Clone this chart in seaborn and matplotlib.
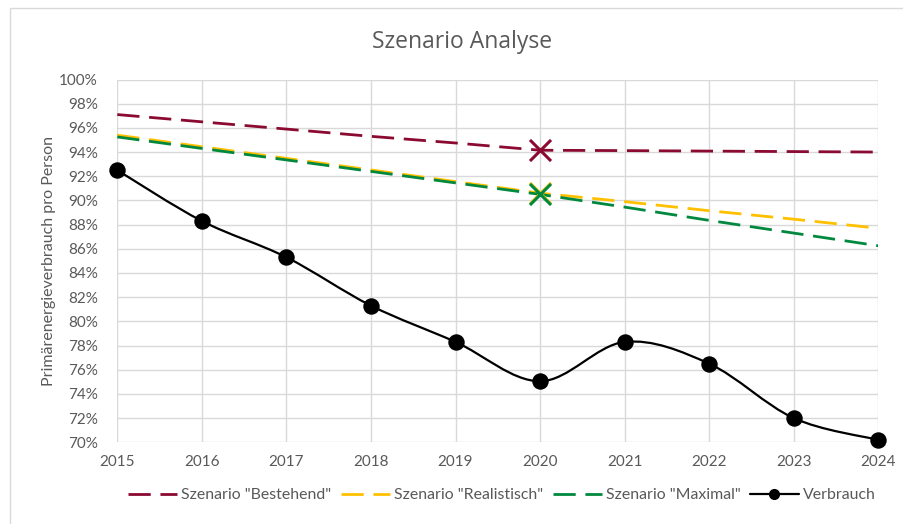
import numpy as np
import pandas as pd
import seaborn as sns
import matplotlib.pyplot as plt
from matplotlib.path import Path
from matplotlib.patches import PathPatch, Rectangle
from matplotlib.lines import Line2D
from matplotlib.ticker import PercentFormatter

# data (values in %)
jahre = [2015, 2016, 2017, 2018, 2019, 2020, 2021, 2022, 2023, 2024]
bestehend = [97.1, 96.5, 95.9, 95.3, 94.75, 94.15, 94.12, 94.08, 94.04, 94.0]
realistisch = [95.4, 94.44, 93.48, 92.52, 91.56, 90.6, 89.9, 89.15, 88.45, 87.7]
maximal = [95.25, 94.3, 93.35, 92.4, 91.45, 90.5, 89.45, 88.35, 87.3, 86.25]
verbrauch = [92.5, 88.3, 85.3, 81.3, 78.3, 75.05, 78.3, 76.5, 72.0, 70.2]
marker_jahr = 2020

namen = ['Szenario "Bestehend"', 'Szenario "Realistisch"', 'Szenario "Maximal"', 'Verbrauch']
farben = ["#8B0A32", "#FFC000", "#00893E", "#000000"]

sns.set_style("white")
plt.rcParams["font.family"] = ["Lato", "DejaVu Sans"]

fig = plt.figure(figsize=(9.04, 5.24), dpi=100)
ax = fig.add_axes([117.3 / 904, 1 - 442.3 / 524, (878.3 - 117.3) / 904, (442.3 - 79.5) / 524])

# chart area border
fig.patches.append(Rectangle((10 / 904, -0.05), 1.0, 1 - 8 / 524 + 0.05, transform=fig.transFigure,
                             fill=False, edgecolor="#d9d9d9", linewidth=1.0))

szenarien = [bestehend, realistisch, maximal]
for werte, name, farbe in zip(szenarien, namen[:3], farben[:3]):
    df = pd.DataFrame({"Jahr": jahre, "Wert": werte})
    sns.lineplot(data=df, x="Jahr", y="Wert", ax=ax, color=farbe, linewidth=2.0,
                 dashes=False, zorder=3)
    ax.lines[-1].set_dashes((8, 3.5))
    idx = jahre.index(marker_jahr)
    sns.scatterplot(x=[marker_jahr], y=[werte[idx]], ax=ax, marker="x", s=230,
                    color=farbe, linewidth=2.2, zorder=4)

# smoothed Verbrauch curve (Excel-style Catmull-Rom smoothing)
x = np.array(jahre, dtype=float)
y = np.array(verbrauch, dtype=float)
verts = [(x[0], y[0])]
codes = [Path.MOVETO]
for i in range(len(x) - 1):
    p0 = (x[max(i - 1, 0)], y[max(i - 1, 0)])
    p1 = (x[i], y[i])
    p2 = (x[i + 1], y[i + 1])
    p3 = (x[min(i + 2, len(x) - 1)], y[min(i + 2, len(x) - 1)])
    c1 = (p1[0] + (p2[0] - p0[0]) / 6, p1[1] + (p2[1] - p0[1]) / 6)
    c2 = (p2[0] - (p3[0] - p1[0]) / 6, p2[1] - (p3[1] - p1[1]) / 6)
    verts += [c1, c2, p2]
    codes += [Path.CURVE4] * 3
ax.add_patch(PathPatch(Path(verts, codes), facecolor="none", edgecolor="black",
                       linewidth=1.6, zorder=5))
sns.scatterplot(x=jahre, y=verbrauch, ax=ax, color="black", s=140, edgecolor="black",
                linewidth=0, zorder=6, clip_on=False)

ax.set_xlim(2015, 2024)
ax.set_ylim(70, 100)
ax.set_xticks(jahre)
ax.set_yticks(np.arange(70, 101, 2))
ax.yaxis.set_major_formatter(PercentFormatter(decimals=0))
ax.grid(True, color="#d9d9d9", linewidth=1.0)
ax.set_axisbelow(True)
for s in ax.spines.values():
    s.set_visible(False)
ax.tick_params(axis="both", length=0, labelsize=11, labelcolor="#595959")
ax.tick_params(axis="x", pad=9)
ax.tick_params(axis="y", pad=14)
ax.set_xlabel("")
ax.set_ylabel("Primärenergieverbrauch pro Person", fontsize=11.5, color="#595959", labelpad=2)
fig.text(462 / 904, 1 - 42 / 524, "Szenario Analyse", fontsize=16.5, color="#595959",
         ha="center", va="center", family=["Open Sans", "DejaVu Sans"])

handles = [Line2D([], [], color=farben[i], linewidth=2.0, dashes=(8, 3.5)) for i in range(3)]
handles.append(Line2D([], [], color="black", linewidth=1.6, marker="o", markersize=7))
leg = fig.legend(handles, namen, loc="center", bbox_to_anchor=(502 / 904, 1 - 495 / 524), ncol=4,
                 frameon=False, fontsize=11.4, handlelength=3.1, columnspacing=0.6,
                 handletextpad=0.25)
for t in leg.get_texts():
    t.set_color("#595959")

fig.savefig("out.png", dpi=100)
